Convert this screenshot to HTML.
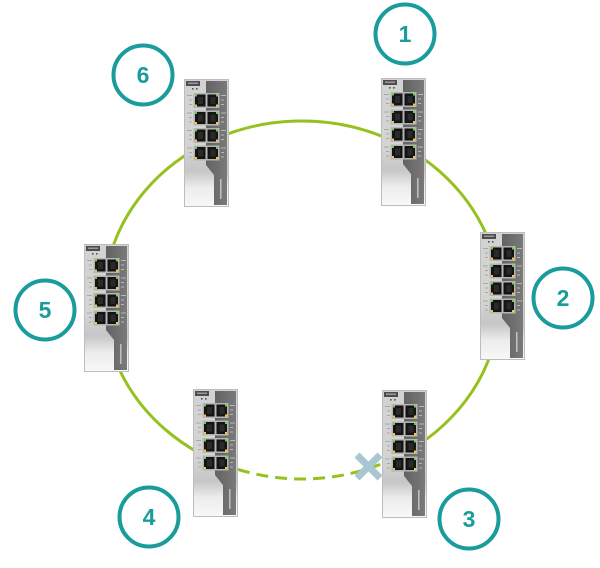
<!DOCTYPE html>
<html>
<head>
<meta charset="utf-8">
<style>
  html, body { margin: 0; padding: 0; background: #ffffff; }
  body { width: 600px; height: 568px; overflow: hidden; }
  svg { display: block; }
  .num { font-family: "Liberation Sans", sans-serif; font-size: 23px; font-weight: bold; fill: #1a9b9c; }
  .lbl { font-family: "Liberation Sans", sans-serif; font-size: 2.6px; fill: #d0d0d0; }
</style>
</head>
<body>
<svg width="600" height="568" viewBox="0 0 600 568" xmlns="http://www.w3.org/2000/svg">
  <defs>
    <linearGradient id="body" x1="0" y1="0" x2="0" y2="1">
      <stop offset="0" stop-color="#d2d2d2"/>
      <stop offset="0.55" stop-color="#d4d4d4"/>
      <stop offset="0.72" stop-color="#c6c6c6"/>
      <stop offset="0.85" stop-color="#ececec"/>
      <stop offset="1" stop-color="#f8f8f8"/>
    </linearGradient>
    <linearGradient id="strip" x1="0" y1="0" x2="1" y2="0">
      <stop offset="0" stop-color="#626262"/>
      <stop offset="1" stop-color="#7a7a7a"/>
    </linearGradient>
    <g id="row">
      <rect x="9.5" y="0" width="26" height="15" fill="#b5b5b5"/>
      <rect x="11" y="1.5" width="10.5" height="12" fill="#141414"/>
      <rect x="23.5" y="1.5" width="10.5" height="12" fill="#141414"/>
      <rect x="14" y="4" width="5" height="7" fill="#2a2a2a"/>
      <rect x="26.5" y="4" width="5" height="7" fill="#2a2a2a"/>
      <rect x="11" y="1.5" width="2" height="2" fill="#5bd83a"/>
      <rect x="32" y="1.5" width="2" height="2" fill="#5bd83a"/>
      <rect x="11" y="11.5" width="2" height="2" fill="#f0d020"/>
      <rect x="32" y="11.5" width="2" height="2" fill="#f0d020"/>
      <rect x="3" y="2" width="5" height="1" fill="#a8a8a8"/>
      <rect x="5" y="6.5" width="3" height="1" fill="#a8a8a8"/>
      <rect x="5" y="11" width="3" height="1" fill="#a8a8a8"/>
      <rect x="37" y="2" width="5" height="1" fill="#b8b8b8"/>
      <rect x="37" y="6.5" width="3" height="1" fill="#b8b8b8"/>
      <rect x="37" y="11" width="3" height="1" fill="#b8b8b8"/>
    </g>
    <g id="sw">
      <rect x="0.5" y="0.5" width="44" height="127" fill="url(#body)" stroke="#bdbdbd"/>
      <polygon points="22,2 43,2 43,126 30,126 30,96 22,86" fill="url(#strip)"/>
      <rect x="2" y="2" width="14" height="5" fill="#4d4d4d"/>
      <rect x="4" y="3.5" width="10" height="1.5" fill="#9a9a9a"/>
      <rect x="8" y="9" width="1.6" height="1.6" fill="#555"/>
      <rect x="12" y="9" width="1.6" height="1.6" fill="#555"/>
      <use href="#row" x="0" y="14"/>
      <use href="#row" x="0" y="31.5"/>
      <use href="#row" x="0" y="49"/>
      <use href="#row" x="0" y="66.5"/>
      <rect x="36" y="100" width="1.6" height="20" fill="#bdbdbd"/>
    </g>
  </defs>

  <!-- ring -->
  <path d="M 238 469.4 A 198 179 0 1 1 382 463.7" fill="none" stroke="#95c11f" stroke-width="3"/>
  <path d="M 238 469.4 A 198 179 0 0 0 382 463.7" fill="none" stroke="#95c11f" stroke-width="3" stroke-dasharray="12 7"/>

  <!-- switches -->
  <use href="#sw" x="184" y="79"/>
  <use href="#sw" x="381" y="78"/>
  <use href="#sw" x="480" y="232"/>
  <use href="#sw" x="84" y="244"/>
  <use href="#sw" x="193" y="389"/>
  <use href="#sw" x="382" y="390"/>

  <!-- cross -->
  <g stroke="#a9c7d2" stroke-width="7">
    <line x1="357" y1="455" x2="380" y2="478"/>
    <line x1="380" y1="455" x2="357" y2="478"/>
  </g>

  <!-- numbered circles -->
  <g fill="none" stroke="#1a9b9c" stroke-width="4">
    <circle cx="405" cy="34" r="29.5"/>
    <circle cx="563" cy="298" r="29.5"/>
    <circle cx="469" cy="519" r="29.5"/>
    <circle cx="149" cy="517" r="29.5"/>
    <circle cx="45" cy="310" r="29.5"/>
    <circle cx="143" cy="75" r="29.5"/>
  </g>
  <g text-anchor="middle">
    <text class="num" x="405" y="42">1</text>
    <text class="num" x="563" y="306">2</text>
    <text class="num" x="469" y="527">3</text>
    <text class="num" x="149" y="525">4</text>
    <text class="num" x="45" y="318">5</text>
    <text class="num" x="143" y="83">6</text>
  </g>
</svg>
</body>
</html>
